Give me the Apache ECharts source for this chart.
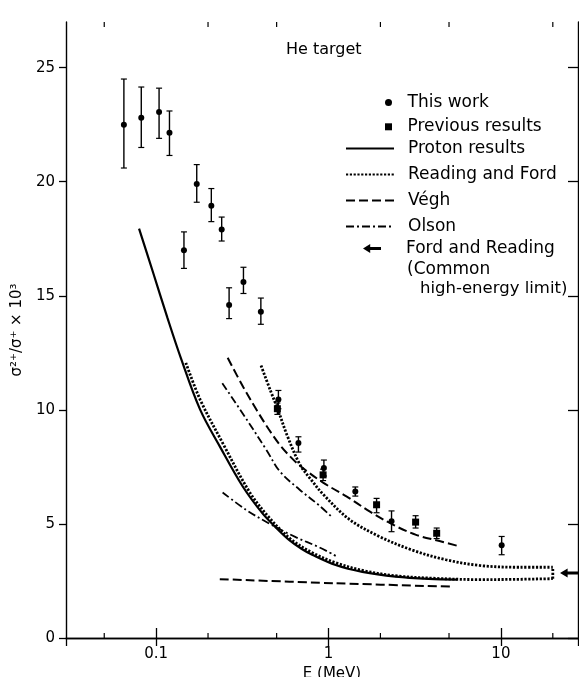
<!DOCTYPE html>
<html>
<head>
<meta charset="utf-8">
<script src="https://cdn.jsdelivr.net/npm/echarts@6/dist/echarts.min.js"></script>
<style>html,body{margin:0;padding:0;background:#fff}#c{width:579px;height:677px}</style>
</head>
<body>
<div id="c"></div>
<script>
// ---------- data ----------
const xMin = 0.03, xMax = 28;
const yMin = 0, yMax = 27;
const yTickValues = [0, 5, 10, 15, 20, 25];
const xMinorTicks = [0.05, 0.2, 0.5, 2, 5, 20];

// This work (circles) with error bars
const thisWorkE  = [0.065, 0.082, 0.104, 0.1195, 0.145, 0.172, 0.209, 0.240, 0.265, 0.321, 0.405, 0.512, 0.669, 0.94, 1.43, 2.32, 10.1];
const thisWorkV  = [22.5, 22.8, 23.05, 22.15, 17.0, 19.9, 18.95, 17.9, 14.6, 15.6, 14.3, 10.45, 8.55, 7.45, 6.42, 5.12, 4.06];
const thisWorkLo = [20.6, 21.5, 21.9, 21.15, 16.2, 19.1, 18.25, 17.4, 14.0, 15.1, 13.75, 10.05, 8.15, 7.1, 6.22, 4.66, 3.65];
const thisWorkHi = [24.5, 24.15, 24.1, 23.1, 17.8, 20.75, 19.7, 18.45, 15.35, 16.25, 14.9, 10.85, 8.82, 7.8, 6.62, 5.57, 4.45];

// Previous results (squares)
const prevE  = [0.505, 0.93, 1.9, 3.2, 4.24];
const prevV  = [10.05, 7.15, 5.84, 5.08, 4.59];
const prevLo = [9.8, 6.9, 5.49, 4.82, 4.36];
const prevHi = [10.3, 7.4, 6.12, 5.36, 4.82];

// Theory curves [E (MeV), ratio]
const protonCurve = [[0.0796,17.94],[0.0962,16.0],[0.1162,14.04],[0.139,12.28],[0.18,10.01],[0.234,8.4],[0.318,6.64],[0.414,5.46],[0.494,4.85],[0.59,4.3],[0.70,3.9],[0.804,3.65],[1.10,3.2],[1.57,2.9],[2.45,2.69],[3.82,2.59],[5.6,2.56]];
const readingFordLow = [[0.1487,12.06],[0.18,10.45],[0.245,8.5],[0.348,6.4],[0.45,5.3],[0.6,4.35],[0.8,3.75],[1.1,3.3],[1.6,2.95],[2.5,2.72],[4,2.62],[7.5,2.56],[12,2.57],[20,2.6]];
const readingFordHigh = [[0.406,11.94],[0.46,10.85],[0.512,9.95],[0.574,8.9],[0.683,7.6],[0.8,6.9],[0.93,6.3],[1.32,5.2],[1.97,4.45],[3.07,3.85],[4.8,3.43],[7.5,3.18],[12.8,3.1],[20,3.1]];
const readingFordJoin = [[20,2.6],[20,3.1]];
const veghHigh = [[0.26,12.28],[0.32,11.0],[0.386,9.95],[0.45,9.15],[0.524,8.45],[0.6,7.95],[0.683,7.55],[0.93,6.81],[1.27,6.21],[1.73,5.55],[2.36,4.97],[3.22,4.52],[4.4,4.25],[5.6,4.04]];
const veghLow = [[0.234,2.58],[1.09,2.4],[5.2,2.25]];
const olsonHigh = [[0.242,11.17],[0.337,9.55],[0.438,8.22],[0.522,7.3],[0.68,6.5],[0.886,5.8],[1.03,5.35]];
const olsonLow = [[0.243,6.38],[0.332,5.62],[0.452,5.02],[0.645,4.42],[0.88,3.98],[1.10,3.6]];
// Ford and Reading common high-energy limit (arrow)
const highEnergyLimit = [[25, 2.85]];

// ---------- chart ----------
const FF = 'DejaVu Sans';
const ink = '#000';
const arrowPath = 'path://M0,5L8,0L8,3.3L20,3.3L20,6.7L8,6.7L8,10Z';
const squarePath = 'path://M0,0H10V10H0Z';

function errRender(params, api) {
  const x = api.value(0);
  const lo = api.coord([x, api.value(2)]);
  const hi = api.coord([x, api.value(3)]);
  const cw = 3;
  return {type: 'group', children: [
    {type: 'line', shape: {x1: lo[0], y1: lo[1], x2: hi[0], y2: hi[1]}, style: {stroke: ink, lineWidth: 1.4}},
    {type: 'line', shape: {x1: lo[0]-cw, y1: lo[1], x2: lo[0]+cw, y2: lo[1]}, style: {stroke: ink, lineWidth: 1.2}},
    {type: 'line', shape: {x1: hi[0]-cw, y1: hi[1], x2: hi[0]+cw, y2: hi[1]}, style: {stroke: ink, lineWidth: 1.2}}
  ]};
}

function lineSeries(name, data, width, type) {
  return {type: 'line', name: name, data: data, symbol: 'none', smooth: 0.35,
    lineStyle: {color: ink, width: width, type: type}, itemStyle: {color: ink}, z: 2, silent: true};
}

const txt = {fontFamily: FF, fontSize: 15, color: ink};
const legTxt = {fontFamily: FF, fontSize: 17, color: ink, lineHeight: 16};

const option = {
  animation: false,
  backgroundColor: '#fff',
  grid: {left: 66, right: 1, top: 22, bottom: 39, containLabel: false, outerBoundsMode: 'none'},
  title: [
    {text: 'He target', left: 286, top: 42, padding: 0, textStyle: {fontFamily: FF, fontSize: 16, color: ink, fontWeight: 'normal'}},
    {text: '(Common', left: 407, top: 261, padding: 0, textStyle: {fontFamily: FF, fontSize: 17, color: ink, fontWeight: 'normal'}},
    {text: 'high-energy limit)', left: 420, top: 280, padding: 0, textStyle: {fontFamily: FF, fontSize: 16.5, color: ink, fontWeight: 'normal'}}
  ],
  legend: [
    {orient: 'vertical', left: 385, top: 94, padding: 0, itemGap: 7.3, itemWidth: 28, itemHeight: 7,
     selectedMode: false, data: [{name: 'This work', icon: 'circle'}, {name: 'Previous results', icon: squarePath}],
     textStyle: legTxt},
    {orient: 'vertical', left: 345, top: 140, padding: 0, itemGap: 9, itemWidth: 48, itemHeight: 8,
     selectedMode: false, itemStyle: {opacity: 0},
     data: ['Proton results', 'Reading and Ford', 'Végh', 'Olson'],
     textStyle: Object.assign({padding: [0, 0, 0, 9]}, legTxt)},
    {orient: 'vertical', left: 363, top: 240, padding: 0, itemWidth: 20, itemHeight: 9,
     selectedMode: false, data: [{name: 'Ford and Reading', icon: arrowPath}],
     textStyle: Object.assign({padding: [0, 0, 0, 19]}, legTxt)}
  ],
  xAxis: [
    {type: 'log', logBase: 10, min: xMin, max: xMax, position: 'bottom',
     name: 'E (MeV)', nameLocation: 'middle', nameGap: 24,
     nameTextStyle: Object.assign({padding: [0, 0, 0, 20]}, txt),
     axisLine: {show: true, lineStyle: {color: ink, width: 1.4}},
     axisTick: {show: true, inside: true, length: 10, lineStyle: {color: ink, width: 1.3}},
     axisLabel: Object.assign({margin: 9, showMinLabel: false, showMaxLabel: false}, txt),
     splitLine: {show: false}, minorTick: {show: false}, minorSplitLine: {show: false}},
    {type: 'log', logBase: 10, min: xMin, max: xMax, position: 'top',
     axisLine: {show: true, lineStyle: {color: ink, width: 1.4}},
     axisTick: {show: true, inside: true, length: 8, lineStyle: {color: ink, width: 1.3}},
     axisLabel: {show: false}, splitLine: {show: false}}
  ],
  yAxis: [
    {type: 'value', min: yMin, max: yMax, interval: 5, position: 'left',
     name: 'σ²⁺/σ⁺ × 10³', nameLocation: 'middle', nameGap: 34, nameRotate: 90,
     nameTextStyle: txt,
     axisLine: {show: true, lineStyle: {color: ink, width: 1.4}},
     axisTick: {show: true, inside: false, length: 7, customValues: yTickValues, lineStyle: {color: ink, width: 1.3}},
     axisLabel: Object.assign({margin: 11, customValues: yTickValues}, txt),
     splitLine: {show: false}},
    {type: 'value', min: yMin, max: yMax, interval: 5, position: 'right',
     axisLine: {show: true, lineStyle: {color: ink, width: 1.4}},
     axisTick: {show: true, inside: true, length: 10, customValues: yTickValues, lineStyle: {color: ink, width: 1.3}},
     axisLabel: {show: false}, splitLine: {show: false}}
  ],
  series: [
    lineSeries('Proton results', protonCurve, 2.2, 'solid'),
    lineSeries('Reading and Ford', readingFordLow, 2.8, [2.2, 1.6]),
    lineSeries('Reading and Ford', readingFordHigh, 2.8, [2.2, 1.6]),
    Object.assign(lineSeries('Reading and Ford', readingFordJoin, 2.8, [2.2, 1.6]), {smooth: false}),
    lineSeries('Végh', veghHigh, 2, [9, 4]),
    lineSeries('Végh', veghLow, 2, [9, 4]),
    lineSeries('Olson', olsonHigh, 1.8, [8, 3, 2, 3]),
    lineSeries('Olson', olsonLow, 1.8, [8, 3, 2, 3]),
    {type: 'custom', name: 'errThis', silent: true, z: 3, renderItem: errRender,
     encode: {x: 0, y: [2, 3]},
     data: thisWorkE.map((e, i) => [e, thisWorkV[i], thisWorkLo[i], thisWorkHi[i]])},
    {type: 'custom', name: 'errPrev', silent: true, z: 3, renderItem: errRender,
     encode: {x: 0, y: [2, 3]},
     data: prevE.map((e, i) => [e, prevV[i], prevLo[i], prevHi[i]])},
    {type: 'scatter', name: 'This work', symbol: 'circle', symbolSize: 6, z: 4, silent: true,
     itemStyle: {color: ink, opacity: 1}, data: thisWorkE.map((e, i) => [e, thisWorkV[i]])},
    {type: 'scatter', name: 'Previous results', symbol: 'rect', symbolSize: 7, z: 4, silent: true,
     itemStyle: {color: ink, opacity: 1}, data: prevE.map((e, i) => [e, prevV[i]])},
    {type: 'scatter', name: 'Ford and Reading', symbol: arrowPath, symbolSize: [19, 9], z: 4, silent: true,
     itemStyle: {color: ink, opacity: 1}, data: highEnergyLimit},
    {type: 'custom', name: 'minorTicks', silent: true, z: 5,
     encode: {x: 0, y: 1},
     data: xMinorTicks.map(v => [v, yMin]),
     renderItem: function (params, api) {
       const b = api.coord([api.value(0), yMin]);
       const t = api.coord([api.value(0), yMax]);
       return {type: 'group', children: [
         {type: 'line', shape: {x1: b[0], y1: b[1], x2: b[0], y2: b[1] - 5}, style: {stroke: ink, lineWidth: 1.2}},
         {type: 'line', shape: {x1: t[0], y1: t[1], x2: t[0], y2: t[1] + 5}, style: {stroke: ink, lineWidth: 1.2}}
       ]};
     }}
  ]
};

const chart = echarts.init(document.getElementById('c'), null, {renderer: 'canvas'});
chart.setOption(option);
</script>
</body>
</html>
